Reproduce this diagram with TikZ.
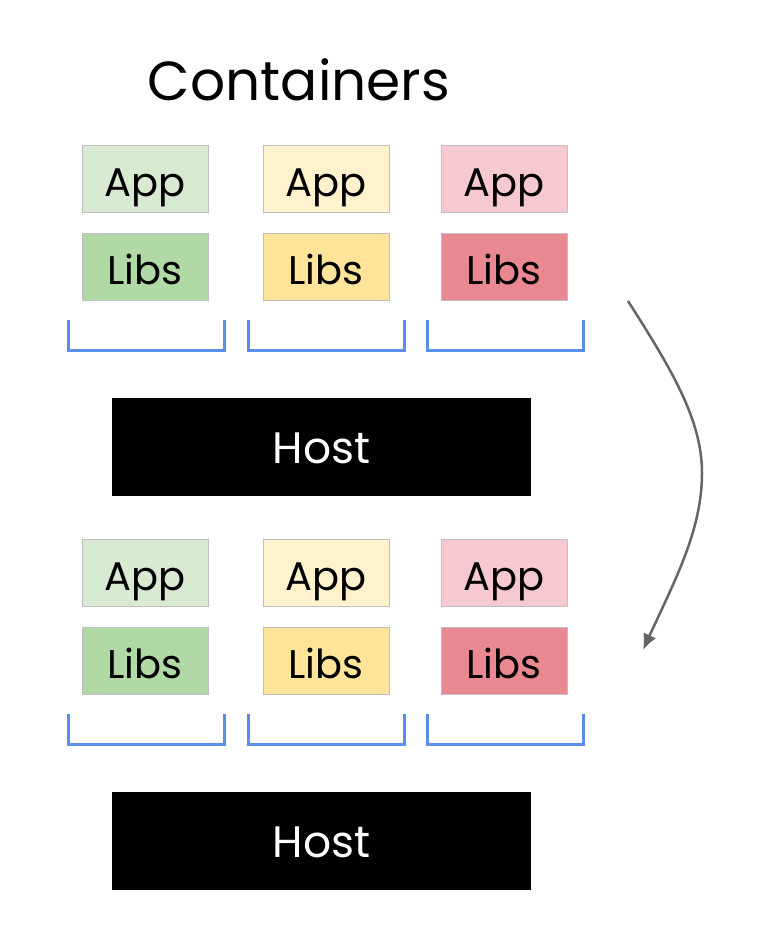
\documentclass[tikz,border=0pt]{standalone}
\usepackage{fontspec}
\setmainfont{Poppins}
\usetikzlibrary{arrows.meta}

\definecolor{appgreen}{HTML}{D9EAD3}
\definecolor{libgreen}{HTML}{B0D9A6}
\definecolor{appyellow}{HTML}{FFF2CC}
\definecolor{libyellow}{HTML}{FFE499}
\definecolor{apppink}{HTML}{F6C8CF}
\definecolor{libred}{HTML}{EA8892}
\definecolor{bracketblue}{HTML}{5B8DEA}
\definecolor{arrowgray}{HTML}{666666}

\begin{document}
\begin{tikzpicture}[x=1pt,y=-1pt,
  layer/.style={draw=black!25,line width=1pt,minimum width=126pt,minimum height=67pt,inner sep=0pt,text height=35pt,text depth=0pt,font=\fontsize{40}{44}\selectfont},
  host/.style={fill=black,minimum width=419pt,minimum height=98pt,inner sep=0pt,text height=32pt,text depth=0pt,text=white,font=\fontsize{44}{48}\selectfont},
  bracket/.style={draw=bracketblue,line width=3pt}]
 \useasboundingbox[fill=white] (0,0) rectangle (766,948);
 \node (title) at (299,80) {\fontsize{55}{60}\selectfont Containers};
 % before
 \node[layer,fill=appgreen] (appA) at (145,178.5) {App};
 \node[layer,fill=appyellow] (appB) at (326,178.5) {App};
 \node[layer,fill=apppink] (appC) at (504,178.5) {App};
 \node[layer,fill=libgreen] (libsA) at (145,266.5) {Libs};
 \node[layer,fill=libyellow] (libsB) at (326,266.5) {Libs};
 \node[layer,fill=libred] (libsC) at (504,266.5) {Libs};
 \draw[bracket] (68,320) -- (68,350) -- (224,350) -- (224,320);
 \draw[bracket] (248,320) -- (248,350) -- (404,350) -- (404,320);
 \draw[bracket] (427,320) -- (427,350) -- (583,350) -- (583,320);
 \node[host] (hostA) at (321.5,447) {Host};
 % after
 \node[layer,fill=appgreen] (appD) at (145,572.5) {App};
 \node[layer,fill=appyellow] (appE) at (326,572.5) {App};
 \node[layer,fill=apppink] (appF) at (504,572.5) {App};
 \node[layer,fill=libgreen] (libsD) at (145,660.5) {Libs};
 \node[layer,fill=libyellow] (libsE) at (326,660.5) {Libs};
 \node[layer,fill=libred] (libsF) at (504,660.5) {Libs};
 \draw[bracket] (68,714) -- (68,744) -- (224,744) -- (224,714);
 \draw[bracket] (248,714) -- (248,744) -- (404,744) -- (404,714);
 \draw[bracket] (427,714) -- (427,744) -- (583,744) -- (583,714);
 \node[host] (hostB) at (321.5,841) {Host};
 % arrow
 \coordinate (from) at (628,301);
 \coordinate (bend) at (702,473);
 \coordinate (to) at (643,650);
 \draw[arrowgray,line width=2.5pt,-{Latex[length=16pt,width=14pt]}] (from) .. controls (672,370) and (702,420) .. (bend) .. controls (702,530) and (675,580) .. (to);
\end{tikzpicture}
\end{document}
